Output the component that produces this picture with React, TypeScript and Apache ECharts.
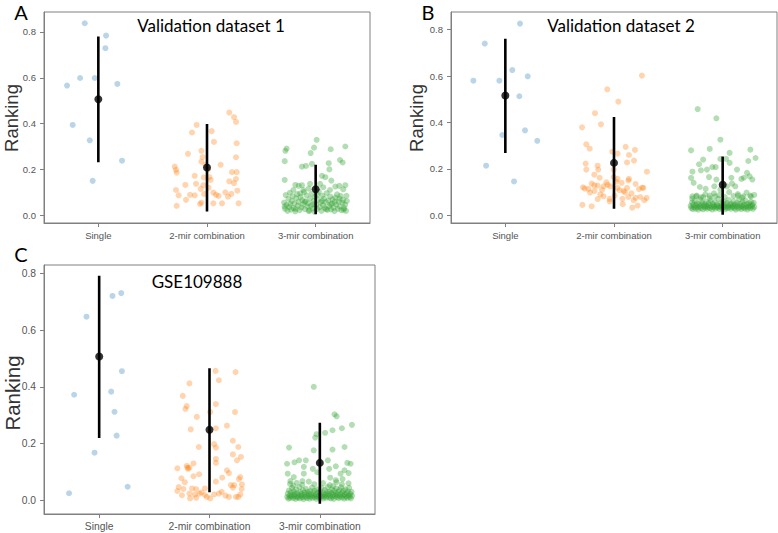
import React, { useEffect, useRef } from "react";
import * as echarts from "echarts";

const CATEGORIES = ["Single", "2-mir combination", "3-mir combination"];
const Y_TICKS = [0, 0.2, 0.4, 0.6, 0.8];
const PANEL_TITLES = ["Validation dataset 1", "Validation dataset 2", "GSE109888"];
const PANEL_LETTERS = ["A", "B", "C"];

// points are [jitter offset from category centre, ranking]
const A_SINGLE: number[][] = [[-0.125,0.838],[0.071,0.784],[0.065,0.729],[-0.168,0.599],[-0.033,0.599],[-0.288,0.566],[0.175,0.573],[-0.236,0.394],[-0.079,0.327],[0.218,0.238],[-0.052,0.15]];
const A_MIR2: number[][] = [[0.205,0.448],[0.249,0.428],[0.267,0.407],[-0.095,0.394],[-0.138,0.361],[0.043,0.367],[0.064,0.32],[0.273,0.314],[-0.175,0.268],[-0.052,0.281],[-0.04,0.254],[0.267,0.253],[-0.052,0.234],[0.126,0.22],[-0.297,0.212],[-0.285,0.198],[-0.279,0.186],[0.23,0.188],[0.273,0.188],[-0.113,0.172],[0.021,0.166],[0.034,0.154],[0.267,0.158],[0.205,0.148],[0.248,0.14],[-0.199,0.132],[-0.101,0.137],[-0.034,0.131],[-0.058,0.115],[0.015,0.12],[-0.285,0.11],[0.279,0.107],[0.169,0.1],[0.224,0.093],[-0.261,0.087],[-0.156,0.089],[-0.113,0.087],[-0.027,0.093],[0.058,0.099],[0.083,0.089],[0.107,0.084],[0.193,0.081],[-0.193,0.067],[-0.064,0.049],[-0.052,0.055],[0.058,0.052],[0.138,0.052],[0.291,0.052],[-0.279,0.041],[-0.015,0.22],[0.01,0.2],[-0.03,0.165]];
const A_MIR3: number[][] = [[0.009,0.329],[-0.279,0.281],[-0.267,0.291],[-0.046,0.271],[-0.015,0.295],[0.138,0.288],[0.273,0.3],[-0.285,0.236],[0.224,0.241],[0.248,0.23],[-0.126,0.212],[-0.089,0.215],[-0.034,0.224],[0.12,0.227],[0.126,0.2],[-0.285,0.154],[0.058,0.172],[0.089,0.166],[0.144,0.151],[-0.187,0.132],[-0.156,0.128],[-0.126,0.131],[-0.052,0.137],[0.04,0.137],[0.07,0.122],[0.181,0.125],[0.218,0.128],[0.273,0.131],[-0.205,0.11],[-0.113,0.11],[-0.064,0.116],[0.132,0.11],[0.254,0.113],
[-0.291,0.055],[-0.282,0.028],[-0.276,0.088],[-0.268,0.045],[-0.259,0.019],[-0.251,0.071],[-0.243,0.036],[-0.238,0.098],[-0.227,0.024],[-0.219,0.062],[-0.212,0.083],[-0.203,0.031],[-0.196,0.051],[-0.188,0.017],[-0.179,0.074],[-0.171,0.092],[-0.163,0.042],[-0.157,0.058],[-0.148,0.022],[-0.139,0.079],[-0.131,0.034],[-0.124,0.066],[-0.116,0.047],[-0.107,0.101],[-0.098,0.026],[-0.092,0.061],[-0.084,0.087],[-0.075,0.038],[-0.068,0.052],[-0.059,0.021],[-0.051,0.073],[-0.043,0.041],[-0.036,0.094],[-0.027,0.029],[-0.019,0.063],[-0.011,0.016],[-0.004,0.081],[0.006,0.046],[0.013,0.027],[0.021,0.068],[0.029,0.103],[0.037,0.035],[0.044,0.056],[0.053,0.019],[0.061,0.086],[0.068,0.044],[0.077,0.072],[0.085,0.031],[0.092,0.057],[0.101,0.096],[0.108,0.023],[0.117,0.064],[0.124,0.039],[0.133,0.082],[0.141,0.025],[0.149,0.051],[0.156,0.069],[0.165,0.033],[0.173,0.018],[0.181,0.077],[0.188,0.047],[0.197,0.091],[0.205,0.028],[0.213,0.059],[0.221,0.038],[0.229,0.084],[0.237,0.022],[0.246,0.054],[0.254,0.067],[0.262,0.031],[0.271,0.046],[0.279,0.019],[0.287,0.062],[-0.286,0.038],[-0.233,0.049],[-0.184,0.027],[-0.142,0.095],[-0.101,0.058],[-0.063,0.018],[-0.022,0.048],[0.017,0.09],[0.058,0.062],[0.096,0.026],[0.137,0.047],[0.176,0.058],[0.218,0.073],[0.258,0.024],[0.283,0.085]];
const A_MEAN = [0.506, 0.208, 0.113];
const A_LOW = [0.231, 0.016, 0.004];
const A_HIGH = [0.78, 0.398, 0.22];

const B_SINGLE: number[][] = [[0.135,0.826],[-0.189,0.74],[0.064,0.626],[0.206,0.599],[-0.294,0.58],[-0.055,0.58],[0.129,0.513],[0.181,0.366],[-0.028,0.346],[0.294,0.321],[-0.177,0.214],[0.08,0.146]];
const B_MIR2: number[][] = [[0.257,0.602],[-0.062,0.543],[0.04,0.49],[-0.175,0.44],[-0.12,0.392],[-0.294,0.379],[-0.255,0.306],[-0.224,0.287],[0.107,0.295],[0.193,0.282],[-0.016,0.274],[0.033,0.266],[0.138,0.26],[-0.261,0.223],[0.184,0.236],[0.12,0.228],[-0.151,0.214],[-0.255,0.197],[-0.145,0.197],[-0.003,0.197],[0.303,0.188],[-0.181,0.175],[-0.132,0.162],[-0.003,0.165],[0.033,0.157],[0.138,0.157],[0.132,0.15],[-0.206,0.137],[-0.181,0.129],[-0.151,0.128],[0.07,0.14],[0.199,0.135],[-0.285,0.121],[-0.236,0.114],[-0.096,0.125],[-0.059,0.131],[-0.035,0.125],[0.033,0.118],[0.088,0.105],[0.1,0.099],[0.26,0.119],[-0.126,0.09],[0.006,0.085],[0.132,0.079],[0.199,0.076],[0.242,0.079],[0.279,0.065],[0.181,0.065],[0.077,0.071],[-0.291,0.045],[-0.206,0.039],[-0.041,0.071],[0.168,0.033],[0.217,0.042],[-0.096,0.082],[-0.27,0.115],[-0.22,0.098],[-0.18,0.105],[-0.11,0.11],[-0.07,0.142],[0.02,0.145],[0.05,0.108],[0.12,0.118],[0.16,0.095],[0.23,0.113],[0.27,0.118],[-0.04,0.06],[0.08,0.048],[0.3,0.075],[-0.15,0.07]];
const B_MIR3: number[][] = [[-0.23,0.458],[-0.058,0.418],[-0.021,0.326],[-0.291,0.28],[-0.119,0.286],[0.255,0.283],[0.064,0.269],[0.303,0.247],[0.236,0.234],[-0.18,0.24],[-0.021,0.243],[0.031,0.243],[0.064,0.226],[-0.217,0.22],[-0.278,0.188],[-0.2,0.194],[-0.145,0.197],[-0.095,0.208],[-0.064,0.208],[0.132,0.197],[0.224,0.183],[0.248,0.168],[0.273,0.154],[-0.291,0.161],[-0.267,0.14],[-0.126,0.165],[-0.058,0.154],[0.08,0.162],[0.172,0.157],[0.196,0.162],[0.086,0.137],[0.116,0.125],[-0.21,0.122],[-0.156,0.114],[-0.077,0.125],[-0.021,0.111],[0.04,0.125],[-0.242,0.082],[-0.18,0.079],[-0.119,0.085],[-0.07,0.082],[0.141,0.085],[0.19,0.082],[0.254,0.085],[-0.279,0.082],
[-0.295,0.041],[-0.289,0.032],[-0.282,0.055],[-0.276,0.027],[-0.27,0.046],[-0.263,0.036],[-0.257,0.062],[-0.25,0.029],[-0.244,0.043],[-0.238,0.051],[-0.231,0.034],[-0.225,0.024],[-0.219,0.047],[-0.212,0.038],[-0.206,0.068],[-0.199,0.031],[-0.193,0.044],[-0.187,0.055],[-0.18,0.026],[-0.174,0.039],[-0.168,0.048],[-0.161,0.033],[-0.155,0.058],[-0.148,0.041],[-0.142,0.028],[-0.136,0.036],[-0.129,0.052],[-0.123,0.045],[-0.117,0.031],[-0.11,0.064],[-0.104,0.038],[-0.097,0.025],[-0.091,0.049],[-0.085,0.035],[-0.078,0.042],[-0.072,0.057],[-0.066,0.029],[-0.059,0.037],[-0.053,0.046],[-0.046,0.033],[-0.04,0.071],[-0.034,0.04],[-0.027,0.027],[-0.021,0.052],[-0.014,0.036],[-0.008,0.044],[-0.002,0.03],[0.005,0.061],[0.011,0.039],[0.018,0.048],[0.024,0.026],[0.03,0.034],[0.037,0.054],[0.043,0.042],[0.049,0.031],[0.056,0.066],[0.062,0.037],[0.069,0.045],[0.075,0.028],[0.081,0.05],[0.088,0.035],[0.094,0.041],[0.1,0.059],[0.107,0.032],[0.113,0.047],[0.12,0.024],[0.126,0.038],[0.132,0.053],[0.139,0.043],[0.145,0.03],[0.151,0.069],[0.158,0.036],[0.164,0.049],[0.171,0.027],[0.177,0.04],[0.183,0.057],[0.19,0.033],[0.196,0.045],[0.203,0.029],[0.209,0.063],[0.215,0.038],[0.222,0.048],[0.228,0.025],[0.235,0.035],[0.241,0.052],[0.247,0.042],[0.254,0.031],[0.26,0.058],[0.267,0.039],[0.273,0.046],[0.279,0.028],[0.286,0.054],[0.292,0.036],[-0.28,0.072],[-0.24,0.085],[-0.2,0.078],[-0.16,0.09],[-0.12,0.074],[-0.08,0.095],[-0.03,0.087],[0.02,0.079],[0.06,0.1],[0.1,0.083],[0.14,0.092],[0.18,0.076],[0.22,0.098],[0.26,0.081],[0.29,0.088]];
const B_MEAN = [0.516, 0.226, 0.132];
const B_LOW = [0.269, 0.028, 0.003];
const B_HIGH = [0.761, 0.424, 0.254];

const C_SINGLE: number[][] = [[0.2,0.73],[0.121,0.72],[-0.115,0.647],[0.206,0.455],[-0.227,0.372],[0.109,0.383],[0.139,0.312],[0.158,0.228],[-0.042,0.168],[-0.273,0.025],[0.258,0.048]];
const C_MIR2: number[][] = [[0.055,0.456],[0.236,0.452],[0.085,0.423],[-0.182,0.412],[-0.242,0.368],[-0.206,0.332],[-0.218,0.322],[0.058,0.339],[0.231,0.311],[0.006,0.311],[-0.115,0.294],[-0.17,0.25],[0.058,0.254],[0.158,0.263],[0.212,0.21],[0.042,0.198],[0.058,0.186],[-0.097,0.188],[0.261,0.188],[0.212,0.162],[0.285,0.153],[0.249,0.141],[0.058,0.146],[0.058,0.132],[-0.145,0.13],[-0.206,0.122],[-0.182,0.115],[-0.194,0.111],[-0.291,0.113],[0.158,0.106],[0.176,0.096],[-0.094,0.092],[-0.145,0.085],[0.115,0.08],[0.279,0.082],[0.267,0.075],[-0.255,0.078],[0.058,0.066],[-0.224,0.064],[0.194,0.054],[0.224,0.054],[0.294,0.056],[0.212,0.045],[-0.279,0.047],[-0.236,0.04],[-0.158,0.042],[-0.121,0.04],[-0.042,0.042],[0.291,0.04],[-0.291,0.033],[-0.182,0.024],[-0.133,0.021],[-0.091,0.024],[-0.042,0.019],[0.042,0.021],[0.085,0.024],[0.145,0.017],[0.176,0.012],[0.261,0.012],[-0.176,0.007],[-0.121,0.009],[-0.024,0.012],[0.006,0.007],[0.279,0.021],[-0.073,0.028],[-0.25,0.018],[0.11,0.03],[-0.2,0.115],[0.24,0.012]];
const C_MIR3: number[][] = [[-0.055,0.4],[0.133,0.303],[0.152,0.296],[0.291,0.266],[0.2,0.254],[0.115,0.247],[0.048,0.238],[-0.03,0.233],[-0.042,0.221],[0.224,0.188],[-0.279,0.186],[0.115,0.179],[-0.055,0.176],[-0.23,0.134],[-0.297,0.129],[-0.188,0.141],[-0.127,0.141],[0.073,0.141],[0.249,0.132],[0.279,0.129],[-0.145,0.118],[-0.064,0.111],[0.085,0.111],[0.145,0.12],[0.224,0.106],[-0.291,0.094],[-0.145,0.094],[-0.024,0.099],[0.188,0.094],[0.261,0.096],[-0.236,0.082],[0.094,0.08],[-0.158,0.068],[0.145,0.071],[0.206,0.075],[-0.267,0.068],
[-0.296,0.012],[-0.291,0.024],[-0.285,0.006],[-0.28,0.035],[-0.274,0.017],[-0.269,0.009],[-0.263,0.028],[-0.258,0.014],[-0.252,0.044],[-0.247,0.02],[-0.241,0.008],[-0.236,0.031],[-0.23,0.015],[-0.225,0.023],[-0.219,0.005],[-0.214,0.038],[-0.208,0.013],[-0.203,0.026],[-0.197,0.01],[-0.192,0.019],[-0.186,0.047],[-0.181,0.007],[-0.175,0.029],[-0.17,0.016],[-0.164,0.022],[-0.159,0.011],[-0.153,0.036],[-0.148,0.004],[-0.142,0.018],[-0.137,0.027],[-0.131,0.012],[-0.126,0.041],[-0.12,0.021],[-0.115,0.008],[-0.109,0.03],[-0.104,0.015],[-0.098,0.024],[-0.093,0.006],[-0.087,0.033],[-0.082,0.013],[-0.076,0.019],[-0.071,0.045],[-0.065,0.009],[-0.06,0.026],[-0.054,0.016],[-0.049,0.034],[-0.043,0.011],[-0.038,0.021],[-0.032,0.005],[-0.027,0.039],[-0.021,0.014],[-0.016,0.028],[-0.01,0.018],[-0.005,0.008],[0.001,0.032],[0.006,0.022],[0.012,0.012],[0.017,0.043],[0.023,0.017],[0.028,0.006],[0.034,0.025],[0.039,0.013],[0.045,0.036],[0.05,0.02],[0.056,0.009],[0.061,0.029],[0.067,0.015],[0.072,0.047],[0.078,0.023],[0.083,0.01],[0.089,0.031],[0.094,0.017],[0.1,0.007],[0.105,0.026],[0.111,0.038],[0.116,0.013],[0.122,0.021],[0.127,0.005],[0.133,0.033],[0.138,0.016],[0.144,0.024],[0.149,0.042],[0.155,0.011],[0.16,0.019],[0.166,0.029],[0.171,0.008],[0.177,0.036],[0.182,0.014],[0.188,0.022],[0.193,0.046],[0.199,0.01],[0.204,0.027],[0.21,0.017],[0.215,0.034],[0.221,0.006],[0.226,0.02],[0.232,0.039],[0.237,0.013],[0.243,0.025],[0.248,0.009],[0.254,0.031],[0.259,0.018],[0.265,0.044],[0.27,0.012],[0.276,0.023],[0.281,0.007],[0.287,0.03],[0.292,0.016],[-0.27,0.058],[-0.21,0.062],[-0.16,0.055],[-0.1,0.066],[-0.05,0.057],[0.03,0.061],[0.09,0.054],[0.15,0.064],[0.2,0.056],[0.26,0.06],[-0.24,0.052],[0.12,0.05]];
const C_MEAN = [0.507, 0.249, 0.132];
const C_LOW = [0.22, 0.029, -0.012];
const C_HIGH = [0.791, 0.465, 0.273];

const Y_MIN = [-0.034, -0.033, -0.048];
const Y_MAX = [0.887, 0.876, 0.829];

const POINT_COLORS = ["rgba(31,119,180,0.38)", "rgba(255,127,14,0.42)", "rgba(44,160,44,0.45)"];
const AXIS_COLOR = "#808080";
const LABEL_COLOR = "#555555";

const PANELS = [
  { groups: [A_SINGLE, A_MIR2, A_MIR3], mean: A_MEAN, low: A_LOW, high: A_HIGH },
  { groups: [B_SINGLE, B_MIR2, B_MIR3], mean: B_MEAN, low: B_LOW, high: B_HIGH },
  { groups: [C_SINGLE, C_MIR2, C_MIR3], mean: C_MEAN, low: C_LOW, high: C_HIGH },
];

const GRIDS = [
  { left: 44, top: 12, width: 326, height: 211 },
  { left: 451, top: 12, width: 326, height: 211 },
  { left: 44, top: 265, width: 331, height: 249 },
];
const TICK_FONT = [9.5, 9.5, 10.3];
const TITLE_POS = [[211, 25], [621, 25], [197, 281]];
const LETTER_POS = [[21, 12], [428, 12], [21, 254]];
const YLABEL_POS = [[11, 118], [416, 118], [12, 393]];
const YLABEL_SIZE = [18.5, 18.5, 20.5];

function buildOption() {
  const series: any[] = [];
  PANELS.forEach((p, pi) => {
    p.groups.forEach((pts, gi) => {
      series.push({
        type: "scatter",
        xAxisIndex: pi,
        yAxisIndex: pi,
        symbolSize: 6,
        itemStyle: { color: POINT_COLORS[gi], borderWidth: 0 },
        data: pts.map((d) => [gi + d[0], d[1]]),
        z: 2,
        silent: true,
      });
    });
    for (let gi = 0; gi < 3; gi++) {
      series.push({
        type: "line",
        xAxisIndex: pi,
        yAxisIndex: pi,
        showSymbol: false,
        symbol: "none",
        lineStyle: { color: "#000", width: 2.6 },
        data: [[gi, p.low[gi]], [gi, p.high[gi]]],
        z: 5,
        silent: true,
      });
    }
    series.push({
      type: "scatter",
      xAxisIndex: pi,
      yAxisIndex: pi,
      symbolSize: 8,
      itemStyle: { color: "#000" },
      data: p.mean.map((m, gi) => [gi, m]),
      z: 6,
      silent: true,
    });
  });

  const graphics: any[] = [];
  for (let i = 0; i < 3; i++) {
    graphics.push({
      type: "text",
      x: TITLE_POS[i][0],
      y: TITLE_POS[i][1],
      style: { text: PANEL_TITLES[i], font: "17px Lato", fill: "#000", align: "center", verticalAlign: "middle" },
    });
    graphics.push({
      type: "text",
      x: LETTER_POS[i][0],
      y: LETTER_POS[i][1],
      style: { text: PANEL_LETTERS[i], font: "20px Lato", fill: "#000", align: "center", verticalAlign: "middle" },
    });
    graphics.push({
      type: "text",
      x: YLABEL_POS[i][0],
      y: YLABEL_POS[i][1],
      rotation: Math.PI / 2,
      style: { text: "Ranking", font: `${YLABEL_SIZE[i]}px "Liberation Sans"`, fill: "#333", align: "center", verticalAlign: "middle" },
    });
  }

  return {
    animation: false,
    backgroundColor: "#ffffff",
    grid: GRIDS.map((g) => ({ ...g, show: true, borderColor: AXIS_COLOR, borderWidth: 1, backgroundColor: "transparent", containLabel: false })),
    xAxis: GRIDS.map((_, i) => ({
      type: "value",
      gridIndex: i,
      min: -0.5,
      max: 2.5,
      axisLine: { show: true, onZero: false, lineStyle: { color: AXIS_COLOR } },
      axisTick: { show: true, customValues: [0, 1, 2], length: 4, lineStyle: { color: AXIS_COLOR } },
      axisLabel: {
        customValues: [0, 1, 2],
        formatter: (v: number) => CATEGORIES[Math.round(v)],
        color: LABEL_COLOR,
        fontSize: TICK_FONT[i],
        fontFamily: "Liberation Sans",
        margin: 7,
      },
      splitLine: { show: false },
    })),
    yAxis: GRIDS.map((_, i) => ({
      type: "value",
      gridIndex: i,
      min: Y_MIN[i],
      max: Y_MAX[i],
      axisLine: { show: true, onZero: false, lineStyle: { color: AXIS_COLOR } },
      axisTick: { show: true, customValues: Y_TICKS, length: 4, lineStyle: { color: AXIS_COLOR } },
      axisLabel: {
        customValues: Y_TICKS,
        formatter: (v: number) => v.toFixed(1),
        color: LABEL_COLOR,
        fontSize: TICK_FONT[i],
        fontFamily: "Liberation Sans",
        margin: 8,
      },
      splitLine: { show: false },
    })),
    series,
    graphic: graphics,
  };
}

export default function App() {
  const ref = useRef<HTMLDivElement>(null);
  useEffect(() => {
    document.body.style.margin = "0";
    if (!ref.current) return;
    const chart = echarts.init(ref.current, null, { renderer: "svg" });
    chart.setOption(buildOption() as any);
    return () => chart.dispose();
  }, []);
  return <div ref={ref} style={{ width: 778, height: 533, position: "absolute", left: 0, top: 0 }} />;
}
